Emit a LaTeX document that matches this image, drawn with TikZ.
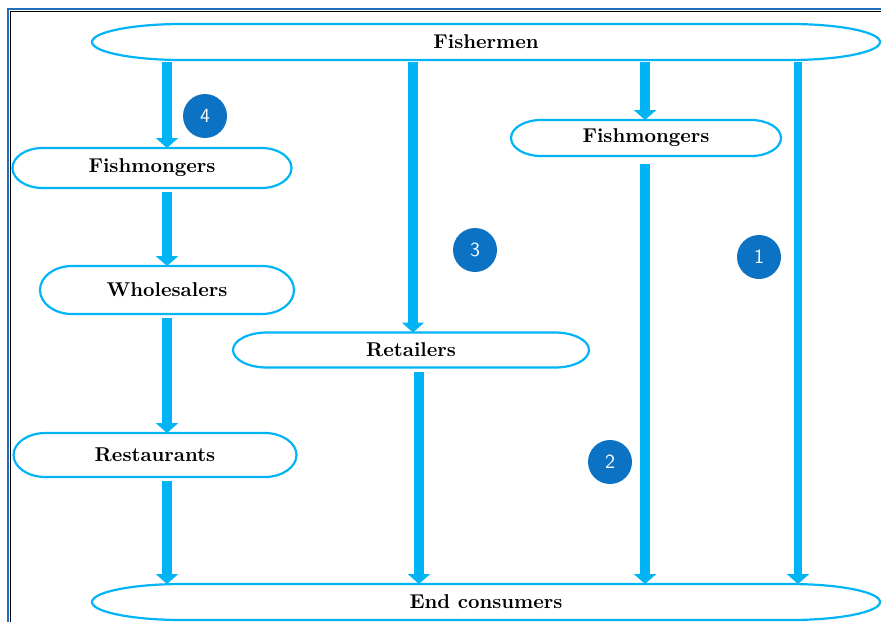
\documentclass[tikz,border=0pt]{standalone}
\usepackage{tikz}
\usetikzlibrary{positioning,arrows.meta,calc}
\definecolor{sky}{HTML}{00B4F5}
\definecolor{badge}{HTML}{0B72C4}
\definecolor{frameBlue}{HTML}{1F6FC0}

% outline with elliptical ends round a named node
\newcommand{\capline}[2]{%
  \draw[outline] let \p1=(#1.north west), \p2=(#1.south east), \n1={(\y1-\y2)/2} in
    ([xshift=#2]#1.north west) -- ([xshift=-#2]#1.north east)
    arc[start angle=90,end angle=-90,x radius=#2,y radius=\n1]
    -- ([xshift=#2]#1.south west)
    arc[start angle=270,end angle=90,x radius=#2,y radius=\n1] -- cycle;}

\begin{document}
\begin{tikzpicture}[x=0.5pt,y=-0.5pt,
    box/.style={inner sep=0pt,outer sep=0pt,align=center,font=\bfseries},
    outline/.style={draw=sky,line width=1.1pt},
    arr/.style={draw=sky,line width=4.6pt,shorten <=1pt,
      -{Triangle[width=11pt,length=5pt]}},
    num/.style={circle,fill=badge,text=white,minimum size=22pt,inner sep=0pt,
      font=\sffamily}]
    \useasboundingbox (0,0) rectangle (881,622);
    % frame
    \draw[frameBlue,line width=1pt] (8,622) -- (8,9) -- (881,9);
    \draw[black,line width=0.8pt] (10.5,622) -- (10.5,11.5) -- (881,11.5);
    % nodes
    \node[box,minimum width=394pt,minimum height=18pt] (fisher) at (486,42) {Fishermen};
    \node[box,minimum width=139.5pt,minimum height=20pt] (fmL) at (152,168) {Fishmongers};
    \node[box,minimum width=135pt,minimum height=18pt] (fmR) at (646,138) {Fishmongers};
    \node[box,minimum width=127pt,minimum height=24pt] (whole) at (167,290) {Wholesalers};
    \node[box,minimum width=178pt,minimum height=17.5pt] (retail) at (411,350) {Retailers};
    \node[box,minimum width=141.5pt,minimum height=22pt] (rest) at (155,455) {Restaurants};
    \node[box,minimum width=394pt,minimum height=18pt] (endc) at (486,602) {End consumers};
    \capline{fisher}{45pt}
    \capline{fmL}{15pt}
    \capline{fmR}{15pt}
    \capline{whole}{16pt}
    \capline{retail}{17pt}
    \capline{rest}{16pt}
    \capline{endc}{45pt}
    % arrow columns
    \coordinate (c1) at (167,0);
    \coordinate (c2) at (413,0);
    \coordinate (c3) at (645,0);
    \coordinate (c4) at (798,0);
    \coordinate (c5) at (419,0);
    \draw[arr] (fisher.south -| c1) -- (fmL.north -| c1);
    \draw[arr] (fisher.south -| c2) -- (retail.north -| c2);
    \draw[arr] (fisher.south -| c3) -- (fmR.north -| c3);
    \draw[arr,line width=4pt] (fisher.south -| c4) -- (endc.north -| c4);
    \draw[arr] ([yshift=-1pt]fmL.south -| c1) -- (whole.north -| c1);
    \draw[arr] ([yshift=-1pt]whole.south -| c1) -- (rest.north -| c1);
    \draw[arr] ([yshift=-1pt]rest.south -| c1) -- (endc.north -| c1);
    \draw[arr] ([yshift=-1pt]retail.south -| c5) -- (endc.north -| c5);
    \draw[arr] ([yshift=-3pt]fmR.south -| c3) -- (endc.north -| c3);
    % route numbers
    \node[num] (n4) at (205,116) {4};
    \node[num] (n3) at (475,250) {3};
    \node[num] (n1) at (759,257) {1};
    \node[num] (n2) at (610,462) {2};
  \end{tikzpicture}
\end{document}
